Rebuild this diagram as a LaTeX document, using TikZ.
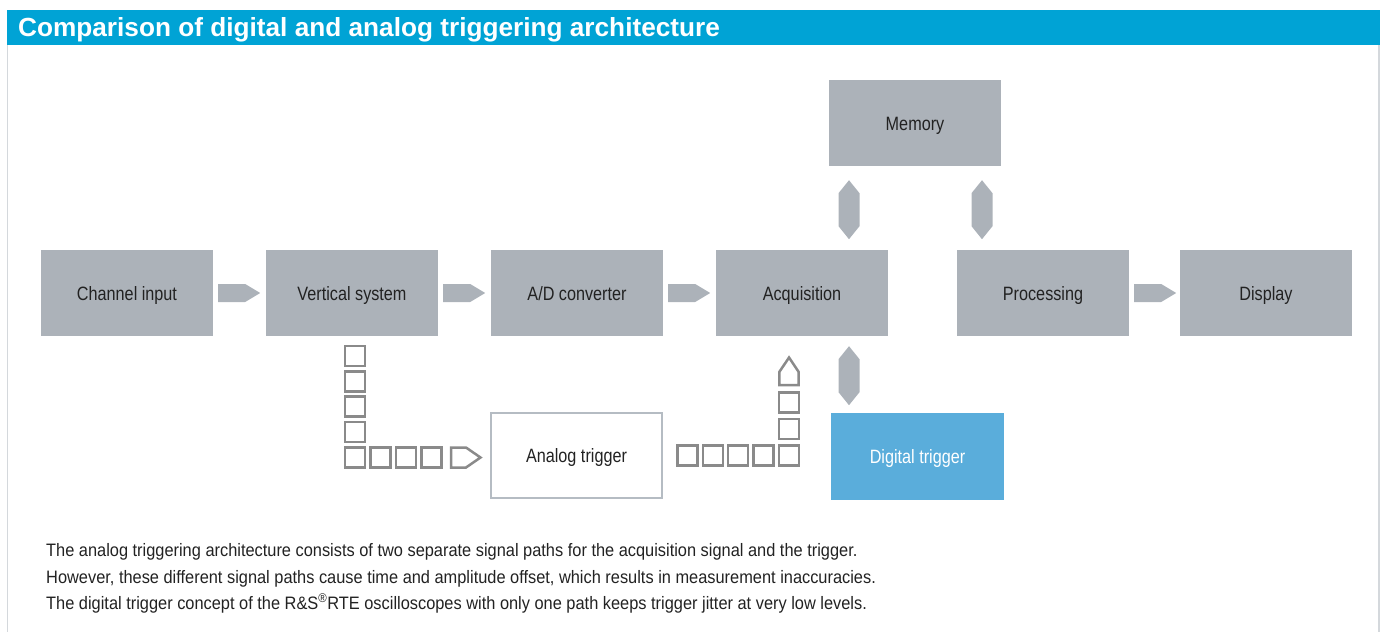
\documentclass[tikz,border=0pt]{standalone}
\usepackage{fontspec}
\usetikzlibrary{calc}
\setmainfont{Liberation Sans}
\newfontfamily\condfont{Liberation Sans}[FakeStretch=0.84]
\newfontfamily\capfont{Liberation Sans}[FakeStretch=0.91]
\newfontfamily\titlefont{Liberation Sans}[FakeStretch=1.0]
\definecolor{boxgray}{HTML}{ACB2B9}
\definecolor{digblue}{HTML}{5AADDB}
\definecolor{headblue}{HTML}{00A3D5}
\definecolor{chaingray}{HTML}{8A8A8A}
\definecolor{anaborder}{HTML}{B5BCC3}
\definecolor{framegray}{HTML}{D4D8DC}
\definecolor{textdark}{HTML}{222222}
\tikzset{
  blk/.style={rectangle, fill=boxgray, draw=none, minimum width=172pt, minimum height=86pt,
    inner sep=0pt, text height=14pt, text depth=0pt,
    font=\condfont\fontsize{19.3}{21}\selectfont, text=textdark},
  digblk/.style={blk, fill=digblue, text=white, minimum width=173pt, minimum height=87pt},
  anablk/.style={blk, fill=white, draw=anaborder, line width=2.5pt, minimum width=171pt, minimum height=85pt},
  flowarrow/.style={fill=boxgray, draw=none},
  chain/.style={draw=chaingray, line width=2.5pt, fill=none},
  captext/.style={anchor=base west, inner sep=0pt, font=\capfont\fontsize{18}{20}\selectfont, text=textdark},
}
\newcommand{\hflow}[2]{%
  \fill[flowarrow] ($(#1.east)+(5,-9)$) -- ++(27,0) -- ++(15,9) -- ++(-15,9) -- ++(-27,0) -- cycle;}
\newcommand{\vflow}[1]{%
  \fill[flowarrow] (#1) -- ++(10.5,13) -- ++(0,33) -- ++(-10.5,13) -- ++(-10.5,-13) -- ++(0,-33) -- cycle;}
\newcommand{\sq}[2]{\draw[chain] ($(#1)+(-10,-10)$) rectangle ($(#1)+(10,10)$);}
\begin{document}
\begin{tikzpicture}[x=1pt,y=-1pt]
\useasboundingbox (0,0) rectangle (1380,632);
% frame and header
\draw[framegray, line width=1.2pt] (7.5,44) -- (7.5,632);
\draw[framegray, line width=1.2pt] (1379,44) -- (1379,632);
\fill[headblue] (7,10) rectangle (1380,44.5);
\node[anchor=base west, inner sep=0pt, text=white, font=\titlefont\bfseries\fontsize{26.2}{28}\selectfont] (title) at (18,36) {Comparison of digital and analog triggering architecture};
% main blocks
\node[blk] (chin) at (127,293) {Channel input};
\node[blk] (vert) at (352,293) {Vertical system};
\node[blk] (adc) at (577,293) {A/D converter};
\node[blk] (acq) at (802,293) {Acquisition};
\node[blk] (proc) at (1043,293) {Processing};
\node[blk] (disp) at (1266,293) {Display};
\node[blk] (mem) at (915,123) {Memory};
\node[digblk] (dig) at (917.5,456.5) {Digital trigger};
\node[anablk] (ana) at (576.5,455.5) {Analog trigger};
% horizontal flow arrows
\hflow{chin}{vert}
\hflow{vert}{adc}
\hflow{adc}{acq}
\hflow{proc}{disp}
% vertical double arrows
\coordinate (h1) at ($(mem.south)+(-66,14)$);
\coordinate (h2) at ($(mem.south)+(67,14)$);
\coordinate (h3) at ($(acq.south)+(47,10)$);
\vflow{h1}
\vflow{h2}
\vflow{h3}
% analog path: from vertical system to analog trigger
\coordinate (lc) at (355,457.5);
\foreach \i in {0,...,4} {\sq{$(lc)+(0,{-(4-\i)*25.4})$}{}}
\foreach \i in {1,2,3} {\sq{$(lc)+({\i*25.5},0)$}{}}
\draw[chain] ($(lc)+(96,-10)$) -- ++(15,0) -- ++(14.5,10) -- ++(-14.5,10) -- ++(-15,0) -- cycle;
% analog path: from analog trigger to acquisition
\coordinate (rc) at (789,455.5);
\foreach \i in {1,...,4} {\sq{$(rc)+({-\i*25.4},0)$}{}}
\sq{rc}{}
\sq{$(rc)+(0,-26.5)$}{}
\sq{$(rc)+(0,-53)$}{}
\draw[chain] ($(rc)+(-9.7,-70.5)$) -- ++(0,-13) -- ++(9.7,-14.5) -- ++(9.7,14.5) -- ++(0,13) -- cycle;
% caption
\node[captext] (c1) at (46,556) {The analog triggering architecture consists of two separate signal paths for the acquisition signal and the trigger.};
\node[captext] (c2) at (46,583) {However, these different signal paths cause time and amplitude offset, which results in measurement inaccuracies.};
\node[captext] (c3) at (46,609) {The digital trigger concept of the R\&S\textsuperscript{®}RTE oscilloscopes with only one path keeps trigger jitter at very low levels.};
\end{tikzpicture}
\end{document}
